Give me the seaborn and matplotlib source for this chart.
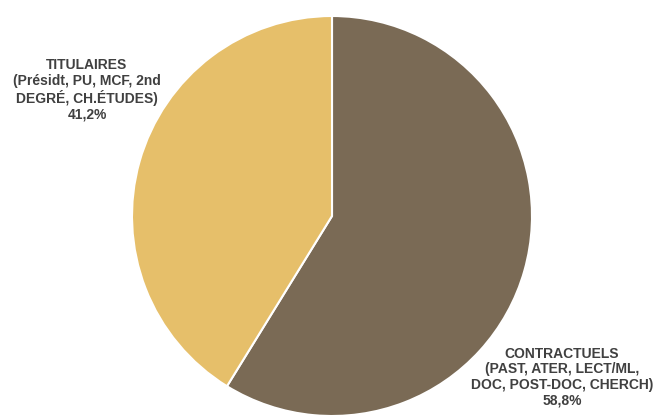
import matplotlib
matplotlib.use("Agg")
import matplotlib.pyplot as plt
import seaborn as sns

categories = ["CONTRACTUELS\n(PAST, ATER, LECT/ML,\nDOC, POST-DOC, CHERCH)",
              "TITULAIRES\n(Présidt, PU, MCF, 2nd\nDEGRÉ, CH.ÉTUDES)"]
values = [58.8, 41.2]
colors = ["#7a6a55", "#e6bf6a"]

sns.set_theme(style="white")
plt.rcParams['font.family'] = ['Liberation Sans', 'DejaVu Sans']

fig = plt.figure(figsize=(6.59, 4.16), dpi=100)
ax = fig.add_axes([132 / 659, 0, 400 / 659, 400 / 416])
ax.pie(values, colors=colors, startangle=90, counterclock=False, radius=1,
       wedgeprops=dict(edgecolor="white", linewidth=1.5))
ax.set_xlim(-1, 1)
ax.set_ylim(-1, 1)
ax.set_aspect("equal")
ax.axis("off")

# labels placed outside the pie like the original
label_pos = [(562 / 659, 1 - 377 / 416), (87 / 659, 1 - 90 / 416)]
for cat, val, (x, y) in zip(categories, values, label_pos):
    pct = f"{val:.1f}".replace(".", ",")
    fig.text(x, y, f"{cat}\n{pct}%", ha="center", va="center",
             multialignment="center", fontsize=10, fontweight="bold",
             color="#404040", linespacing=1.15)

fig.savefig("out.png", dpi=100)
